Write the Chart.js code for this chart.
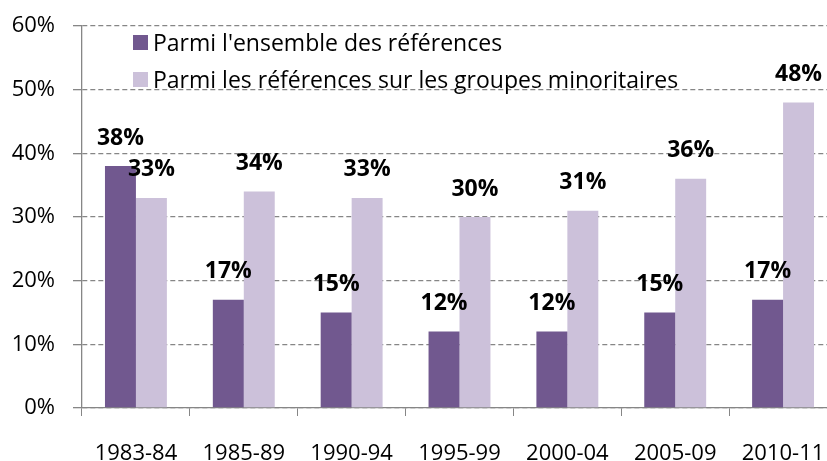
<!DOCTYPE html>
<html>
<head>
<meta charset="utf-8">
<script src="https://cdn.jsdelivr.net/npm/chart.js@4.4.1/dist/chart.umd.min.js"></script>
<style>
    html, body { margin: 0; padding: 0; overflow: hidden; background: #fff; }
    #wrap { width: 842px; height: 461px; }
</style>
</head>
<body>
<div id="wrap"><canvas id="chart" width="842" height="461"></canvas></div>
<script>
// Chart data
const periods = ['1983-84', '1985-89', '1990-94', '1995-99', '2000-04', '2005-09', '2010-11'];
const allRefs = [38, 17, 15, 12, 12, 15, 17];
const minorityRefs = [33, 34, 33, 30, 31, 36, 48];
const seriesNames = [
    "Parmi l'ensemble des références",
    'Parmi les références sur les groupes minoritaires'
];
const yMax = 60;
const yStep = 10;

const FONT = '"Open Sans", "DejaVu Sans", sans-serif';
const darkPurple = '#71588f';
const lightPurple = '#ccc1da';
const axisGrey = '#868686';

// value labels above each bar
const barLabels = {
    id: 'barLabels',
    afterDatasetsDraw(chart) {
        const ctx = chart.ctx;
        ctx.save();
        ctx.font = 'bold 23px ' + FONT;
        ctx.fillStyle = '#000';
        ctx.textAlign = 'center';
        ctx.textBaseline = 'middle';
        chart.data.datasets.forEach((ds, i) => {
            chart.getDatasetMeta(i).data.forEach((bar, j) => {
                ctx.fillText(ds.data[j] + '%', bar.x, bar.y - 28);
            });
        });
        ctx.restore();
    }
};

// legend drawn inside the plot, top left
const insideLegend = {
    id: 'insideLegend',
    afterDraw(chart) {
        const ctx = chart.ctx;
        const area = chart.chartArea;
        ctx.save();
        ctx.font = '23px ' + FONT;
        ctx.textBaseline = 'alphabetic';
        ctx.textAlign = 'left';
        chart.data.datasets.forEach((ds, i) => {
            const top = area.top + 9 + i * 37;
            ctx.fillStyle = ds.backgroundColor;
            ctx.fillRect(area.left + 51, top, 15, 15);
            ctx.fillStyle = '#000';
            ctx.fillText(ds.label, area.left + 71, top + 16);
        });
        ctx.restore();
    }
};

new Chart(document.getElementById('chart'), {
    type: 'bar',
    data: {
        labels: periods,
        datasets: [
            { label: seriesNames[0], data: allRefs, backgroundColor: darkPurple },
            { label: seriesNames[1], data: minorityRefs, backgroundColor: lightPurple }
        ]
    },
    options: {
        responsive: false,
        animation: false,
        events: [],
        layout: { padding: { top: 26, right: 5, left: 0, bottom: 0 } },
        datasets: {
            bar: { categoryPercentage: 0.574, barPercentage: 1.0 }
        },
        plugins: {
            legend: { display: false },
            tooltip: { enabled: false }
        },
        scales: {
            x: {
                grid: { drawOnChartArea: false, color: axisGrey, tickLength: 8, lineWidth: 1 },
                border: { color: axisGrey, width: 1.3 },
                ticks: { color: '#000', font: { family: FONT, size: 22 }, padding: 25, maxRotation: 0 },
                afterFit(scale) {
                    scale.height = 53;
                    scale.paddingLeft = 0;
                    scale.paddingRight = 0;
                }
            },
            y: {
                min: 0,
                max: yMax,
                ticks: {
                    stepSize: yStep,
                    color: '#000',
                    padding: 18,
                    font: { family: FONT, size: 22 },
                    callback: v => v + '%'
                },
                grid: { color: axisGrey, lineWidth: 1.3, tickLength: 9 },
                border: { color: axisGrey, width: 1.3, dash: [5, 3] },
                afterFit(scale) {
                    scale.width = 82;
                    scale.paddingTop = 0;
                    scale.paddingBottom = 0;
                }
            }
        }
    },
    plugins: [barLabels, insideLegend]
});
</script>
</body>
</html>
